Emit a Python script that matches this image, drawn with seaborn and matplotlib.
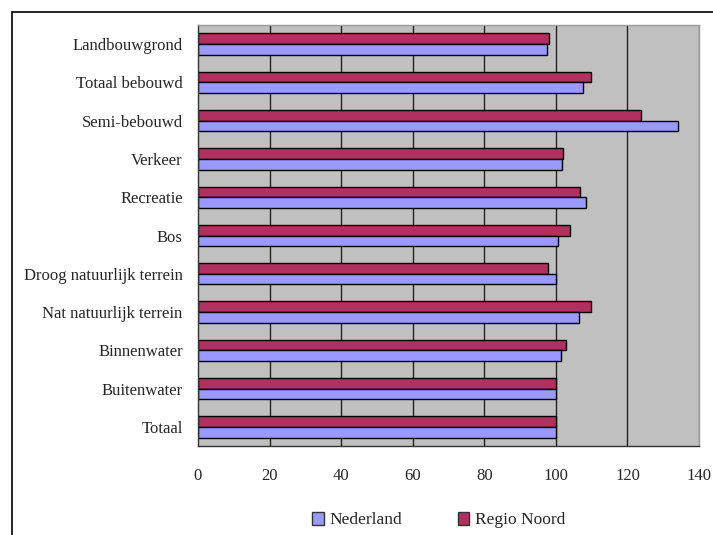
import numpy as np
import pandas as pd
import matplotlib
matplotlib.use("Agg")
import matplotlib.pyplot as plt
import seaborn as sns
from matplotlib.patches import Patch, Rectangle

categories = ["Landbouwgrond", "Totaal bebouwd", "Semi-bebouwd", "Verkeer", "Recreatie",
              "Bos", "Droog natuurlijk terrein", "Nat natuurlijk terrein", "Binnenwater",
              "Buitenwater", "Totaal"]
nederland = [97.4, 107.7, 134.1, 101.6, 108.4, 100.6, 100.0, 106.4, 101.3, 100.0, 100.0]
regio_noord = [98.0, 109.8, 123.8, 102.0, 106.8, 103.9, 97.8, 109.8, 102.9, 100.0, 100.0]
xticks = [0, 20, 40, 60, 80, 100, 120, 140]

df = pd.DataFrame({"categorie": categories * 2,
                   "waarde": nederland + regio_noord,
                   "reeks": ["Nederland"] * len(categories) + ["Regio Noord"] * len(categories)})

sns.set_style("white")
plt.rcParams["font.family"] = ["Liberation Serif", "DejaVu Serif"]
colors = {"Nederland": "#9999FF", "Regio Noord": "#B03060"}

fig = plt.figure(figsize=(7.13, 5.35), dpi=100)
ax = fig.add_axes([198 / 713, 1 - 446 / 535, (699 - 198) / 713, (446 - 25) / 535])

# Regio Noord on top within each group
sns.barplot(data=df, y="categorie", x="waarde", hue="reeks",
            hue_order=["Regio Noord", "Nederland"], palette=colors,
            orient="h", width=0.56, edgecolor="black", linewidth=1.0,
            saturation=1, legend=False, ax=ax)

ax.set_facecolor("#C0C0C0")
ax.set_xlim(0, 140)
ax.set_ylim(len(categories) - 0.5, -0.5)
ax.set_xticks(xticks)
ax.set_xticklabels([str(t) for t in xticks], fontsize=12)
ax.tick_params(axis="x", direction="inout", length=8, width=1, color="#333333", pad=12)
ax.set_yticks(range(len(categories)))
ax.set_yticklabels(categories, fontsize=12)
ax.tick_params(axis="y", which="major", length=0, pad=11)
ax.set_yticks(np.arange(-0.5, len(categories), 1), minor=True)
ax.tick_params(axis="y", which="minor", direction="out", length=5, width=1, color="#333333")
ax.set_xlabel("")
ax.set_ylabel("")

for t in xticks[1:]:
    ax.axvline(t, color="#222222" if t < 140 else "#777777", linewidth=1, zorder=0.5)
ax.set_axisbelow(True)

for s in ["top", "right"]:
    ax.spines[s].set_color("#999999")
    ax.spines[s].set_linewidth(1)
for s in ["left", "bottom"]:
    ax.spines[s].set_color("#333333")
    ax.spines[s].set_linewidth(1)

handles = [Patch(facecolor=colors["Nederland"], edgecolor="#333333", label="Nederland"),
           Patch(facecolor=colors["Regio Noord"], edgecolor="#333333", label="Regio Noord")]
fig.legend(handles=handles, loc="center", bbox_to_anchor=(439 / 713, 1 - 520 / 535),
           ncol=2, frameon=False, fontsize=12.5, handlelength=0.65, handleheight=0.85,
           handletextpad=0.35, columnspacing=3.2)

fig.patches.append(Rectangle((12 / 713, -0.1), 1.2, 1 - 12 / 535 + 0.1,
                             transform=fig.transFigure, fill=False,
                             edgecolor="black", linewidth=1.2))

fig.savefig("out.png", dpi=100)
